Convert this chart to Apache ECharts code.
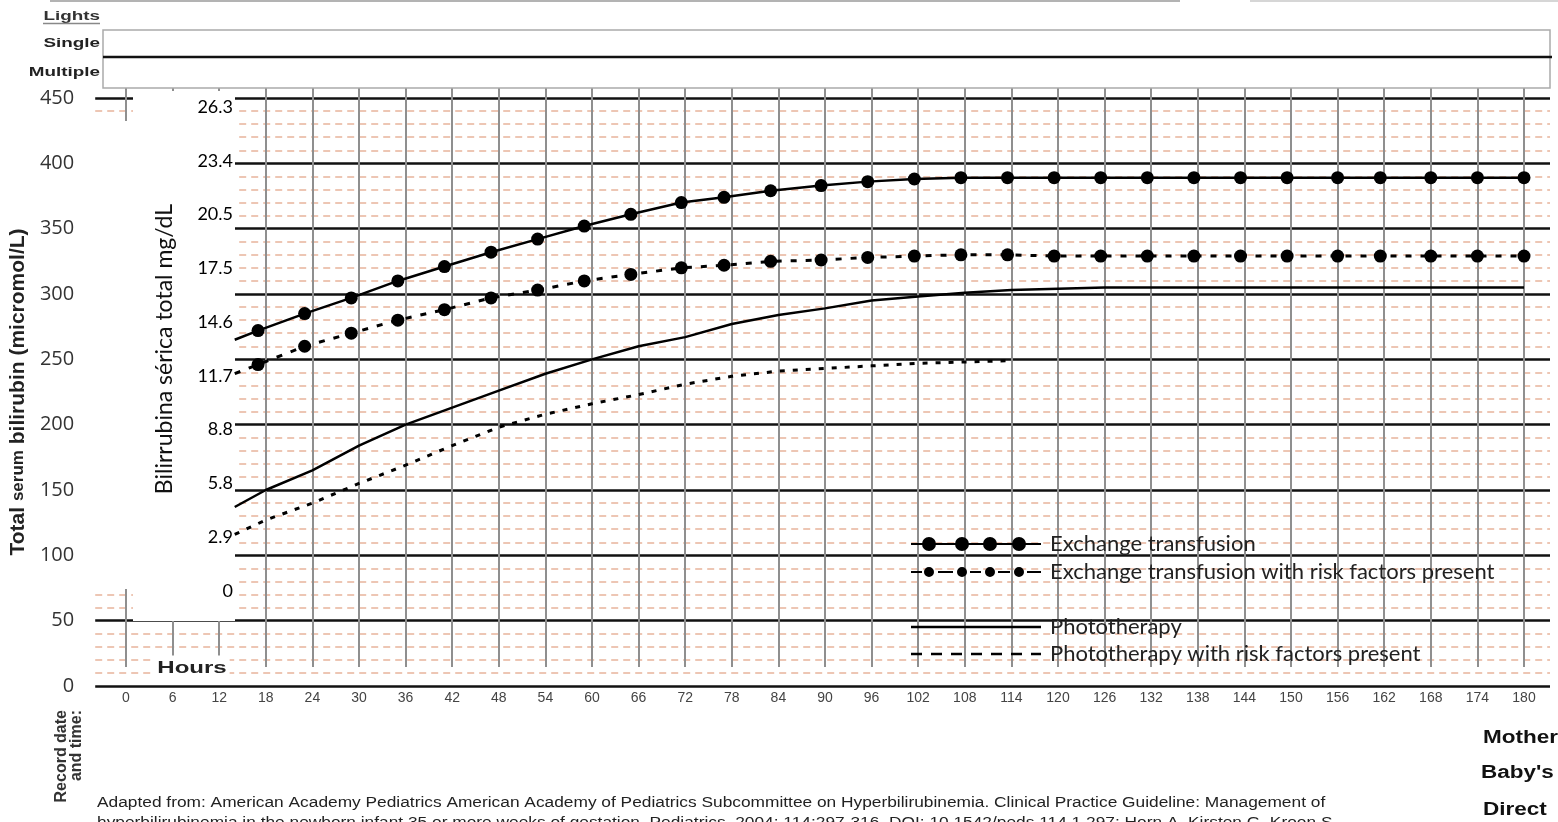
<!DOCTYPE html>
<html>
<head>
<meta charset="utf-8">
<script src="https://cdn.jsdelivr.net/npm/echarts@6/dist/echarts.min.js"></script>
<style>
  html, body { margin: 0; padding: 0; background: #fff; }
  #chart { width: 1558px; height: 822px; }
</style>
</head>
<body>
<div id="chart"></div>
<script>
// hours where the exchange curves carry a dot
const startHour = 14;
const dotHours = [17, 23, 29, 35, 41, 47, 53, 59, 65, 71.5, 77, 83, 89.5, 95.5, 101.5, 107.5,
  113.5, 119.5, 125.5, 131.5, 137.5, 143.5, 149.5, 156, 161.5, 168, 174, 180];
const exchangeStart = 265;
const exchange = [272, 285, 297, 310, 321, 332, 342, 352, 361, 370, 374, 379, 383, 386, 388,
  389, 389, 389, 389, 389, 389, 389, 389, 389, 389, 389, 389, 389];
const exchangeRiskStart = 239;
const exchangeRisk = [246, 260, 270, 280, 288, 297, 303, 310, 315, 320, 322, 325, 326, 328, 329,
  330, 330, 329, 329, 329, 329, 329, 329, 329, 329, 329, 329, 329];

const photoHours = [14, 18, 24, 30, 36, 42, 48, 54, 60, 66, 72, 78, 84, 90, 96, 102, 108, 114, 120, 126, 180];
const phototherapy = [137, 150, 165, 184, 200, 213, 226, 239, 250, 260, 267, 277, 284, 289, 295, 298, 301, 303, 304, 305, 305];
const photoRiskHours = [14, 18, 24, 30, 36, 42, 48, 54, 60, 66, 72, 78, 84, 90, 96, 102, 108, 114];
const photoRisk = [116, 127, 140, 155, 169, 184, 198, 208, 216, 223, 231, 237, 241, 243, 245, 247, 248, 249];

const mgLabels = ['0', '2.9', '5.8', '8.8', '11.7', '14.6', '17.5', '20.5', '23.4', '26.3'];

const calibri = 'Lato, "Open Sans", sans-serif';
const arial = '"Liberation Sans", Arial, sans-serif';

// legend samples: line with four dots / dashes with dots / bar / dashes
function dot(cx) { return 'M' + (cx - 7) + ' 7a7 7 0 1 1 14 0a7 7 0 1 1 -14 0Z'; }
function smallDot(cx) { return 'M' + (cx - 5) + ' 7a5 5 0 1 1 10 0a5 5 0 1 1 -10 0Z'; }
const iconExchange = 'path://M0 6H130V8H0Z' + [18, 51, 79, 108].map(dot).join('');
const iconExchangeRisk = 'path://M0 0H0.1V0.1H0Z M0 13.9H0.1V14H0Z M0 6H11V8H0Z M27 6H42V8H27Z M59 6H70V8H59Z M87 6H99V8H87Z M116 6H130V8H116Z' +
  [18, 51, 79, 108].map(smallDot).join('');
const iconPhoto = 'path://M0 0H130V2.5H0Z';
const iconPhotoRisk = 'path://M0 0H11V2.5H0Z M20 0H31V2.5H20Z M40 0H51V2.5H40Z M60 0H71V2.5H60Z M80 0H91V2.5H80Z M100 0H111V2.5H100Z M120 0H130V2.5H120Z';

const chart = echarts.init(document.getElementById('chart'));

const legendText = { fontFamily: calibri, fontSize: 22, color: '#222', padding: [0, 0, 0, 4] };

chart.setOption({
  animation: false,
  backgroundColor: '#fff',
  grid: [
    { left: 95, right: 8, top: 98, bottom: 136 },
    { left: 126, right: 34, top: 88, bottom: 155 },
    { left: 126, right: 34, top: 98, bottom: 136 },
    { left: 236, width: 1, top: 107, bottom: 231 }
  ],
  xAxis: [
    { gridIndex: 0, type: 'value', min: 0, max: 1, show: false },
    {
      gridIndex: 1, type: 'value', min: 0, max: 180, interval: 6,
      axisLine: { show: false }, axisTick: { show: false }, axisLabel: { show: false },
      splitLine: { show: true, lineStyle: { color: '#8f8f8f', width: 2 } }
    },
    {
      gridIndex: 2, type: 'value', min: 0, max: 180, interval: 6,
      axisLine: { show: false }, axisTick: { show: false }, splitLine: { show: false },
      axisLabel: { fontFamily: '"Liberation Sans Narrow", ' + arial, fontSize: 14, color: '#444', margin: 5 }
    },
    { gridIndex: 3, type: 'value', show: false }
  ],
  yAxis: [
    {
      gridIndex: 0, type: 'value', min: 0, max: 450, interval: 50,
      axisLine: { show: false }, axisTick: { show: false },
      axisLabel: { fontFamily: '"Open Sans", sans-serif', fontSize: 20, color: '#333', margin: 21 },
      splitLine: { show: true, lineStyle: { color: '#111', width: 2.5 } },
      minorTick: { show: false, splitNumber: 5 },
      minorSplitLine: { show: true, lineStyle: { color: '#e8b49c', width: 1.5, type: [7, 5] } },
      name: '{b|Total }{s|serum}{b| bilirubin (micromol/L)}',
      nameLocation: 'middle', nameGap: 66,
      nameTextStyle: {
        rich: {
          b: { fontFamily: arial, fontSize: 21, fontWeight: 'bold', color: '#222' },
          s: { fontFamily: arial, fontSize: 17, fontWeight: 'bold', color: '#222' }
        }
      }
    },
    { gridIndex: 1, type: 'value', min: 0, max: 1, show: false },
    { gridIndex: 2, type: 'value', min: 0, max: 450, show: false },
    {
      gridIndex: 3, type: 'value', min: 0, max: 9, interval: 1, z: 10,
      axisLine: { show: false }, axisTick: { show: false }, splitLine: { show: false },
      axisLabel: { formatter: v => mgLabels[v], fontFamily: calibri, fontSize: 18, color: '#000', margin: 3 },
      name: 'Bilirrubina sérica total mg/dL', nameLocation: 'middle', nameGap: 60,
      nameTextStyle: { fontFamily: calibri, fontSize: 23, color: '#111' }
    }
  ],
  legend: [
    {
      orient: 'vertical', left: 906, top: 528, itemWidth: 130, itemHeight: 14, itemGap: 6,
      selectedMode: false, itemStyle: { borderWidth: 0 }, textStyle: legendText,
      data: [
        { name: 'Exchange transfusion', icon: iconExchange },
        { name: 'Exchange transfusion with risk factors present', icon: iconExchangeRisk }
      ]
    },
    {
      orient: 'vertical', left: 906, top: 611, itemWidth: 130, itemHeight: 3, itemGap: 5,
      selectedMode: false, itemStyle: { borderWidth: 0 }, textStyle: legendText,
      data: [
        { name: 'Phototherapy', icon: iconPhoto },
        { name: 'Phototherapy with risk factors present', icon: iconPhotoRisk }
      ]
    }
  ],
  series: [
    {
      name: 'Exchange transfusion', type: 'line', xAxisIndex: 2, yAxisIndex: 2, z: 5,
      symbol: 'circle', symbolSize: 13, showAllSymbol: true,
      itemStyle: { color: '#000' }, lineStyle: { color: '#000', width: 2.5 },
      data: [{ value: [startHour, exchangeStart], symbol: 'none' }].concat(dotHours.map((h, i) => [h, exchange[i]]))
    },
    {
      name: 'Exchange transfusion with risk factors present', type: 'line', xAxisIndex: 2, yAxisIndex: 2, z: 5,
      symbol: 'circle', symbolSize: 13, showAllSymbol: true,
      itemStyle: { color: '#000' }, lineStyle: { color: '#000', width: 3, type: [6, 9] },
      data: [{ value: [startHour, exchangeRiskStart], symbol: 'none' }].concat(dotHours.map((h, i) => [h, exchangeRisk[i]]))
    },
    {
      name: 'Phototherapy', type: 'line', xAxisIndex: 2, yAxisIndex: 2, z: 5,
      symbol: 'none', itemStyle: { color: '#000' }, lineStyle: { color: '#000', width: 2.5 },
      data: photoHours.map((h, i) => [h, phototherapy[i]])
    },
    {
      name: 'Phototherapy with risk factors present', type: 'line', xAxisIndex: 2, yAxisIndex: 2, z: 5,
      symbol: 'none', itemStyle: { color: '#000' }, lineStyle: { color: '#000', width: 3, type: [5, 8] },
      data: photoRiskHours.map((h, i) => [h, photoRisk[i]])
    }
  ],
  graphic: [
    // paper edge lines at the very top
    { type: 'line', z: 1, shape: { x1: 50, y1: 1, x2: 1180, y2: 1 }, style: { stroke: '#9a9a9a', lineWidth: 1.5 } },
    { type: 'line', z: 1, shape: { x1: 1250, y1: 1, x2: 1558, y2: 1 }, style: { stroke: '#c8c8c8', lineWidth: 1.5 } },
    // lights box
    { type: 'rect', z: 1, shape: { x: 103, y: 30, width: 1447, height: 58 }, style: { fill: '#fff', stroke: '#aaa', lineWidth: 1.5 } },
    { type: 'line', z: 2, shape: { x1: 103, y1: 57, x2: 1552, y2: 57 }, style: { stroke: '#111', lineWidth: 2.5 } },
    { type: 'text', z: 2, x: 100, y: 16, scaleX: 1.45, style: { text: 'Lights', font: 'bold 13px ' + arial, fill: '#333', textAlign: 'right', textVerticalAlign: 'middle' } },
    { type: 'line', z: 2, shape: { x1: 43, y1: 23.5, x2: 100, y2: 23.5 }, style: { stroke: '#888', lineWidth: 1.5 } },
    { type: 'text', z: 2, x: 100, y: 43, scaleX: 1.45, style: { text: 'Single', font: 'bold 13px ' + arial, fill: '#222', textAlign: 'right', textVerticalAlign: 'middle' } },
    { type: 'text', z: 2, x: 100, y: 72, scaleX: 1.45, style: { text: 'Multiple', font: 'bold 13px ' + arial, fill: '#222', textAlign: 'right', textVerticalAlign: 'middle' } },
    // white patch pasted over the first hours
    { type: 'rect', z: 3, shape: { x: 133, y: 91, width: 102, height: 530 }, style: { fill: '#fff' } },
    { type: 'rect', z: 3, shape: { x: 95, y: 121, width: 38, height: 468 }, style: { fill: '#fff' } },
    { type: 'text', z: 4, x: 192, y: 669, scaleX: 1.5, style: { text: 'Hours', font: 'bold 16px ' + arial, fill: '#222', textAlign: 'center', textVerticalAlign: 'middle', backgroundColor: '#fff', padding: [6, 2, 5, 2] } },
    // bottom texts
    { type: 'text', z: 2, x: 69, y: 710, rotation: Math.PI / 2, style: { text: 'Record date\nand time:', font: 'bold 16px ' + arial, fill: '#333', textAlign: 'right', textVerticalAlign: 'middle', lineHeight: 15 } },
    { type: 'text', z: 2, x: 97, y: 803, scaleX: 1.237, style: { text: 'Adapted from: American Academy Pediatrics American Academy of Pediatrics Subcommittee on Hyperbilirubinemia. Clinical Practice Guideline: Management of', font: '14px ' + arial, fill: '#222', textVerticalAlign: 'middle' } },
    { type: 'text', z: 2, x: 97, y: 823, scaleX: 1.237, style: { text: 'hyperbilirubinemia in the newborn infant 35 or more weeks of gestation. Pediatrics. 2004; 114:297-316. DOI: 10.1542/peds.114.1.297; Horn A, Kirsten G, Kroon S', font: '14px ' + arial, fill: '#222', textVerticalAlign: 'middle' } },
    { type: 'text', z: 2, x: 1483, y: 738, scaleX: 1.25, style: { text: 'Mother', font: 'bold 18px ' + arial, fill: '#111', textVerticalAlign: 'middle' } },
    { type: 'text', z: 2, x: 1481, y: 773, scaleX: 1.25, style: { text: "Baby's", font: 'bold 18px ' + arial, fill: '#111', textVerticalAlign: 'middle' } },
    { type: 'text', z: 2, x: 1483, y: 810, scaleX: 1.25, style: { text: 'Direct', font: 'bold 18px ' + arial, fill: '#111', textVerticalAlign: 'middle' } }
  ]
});
</script>
</body>
</html>
